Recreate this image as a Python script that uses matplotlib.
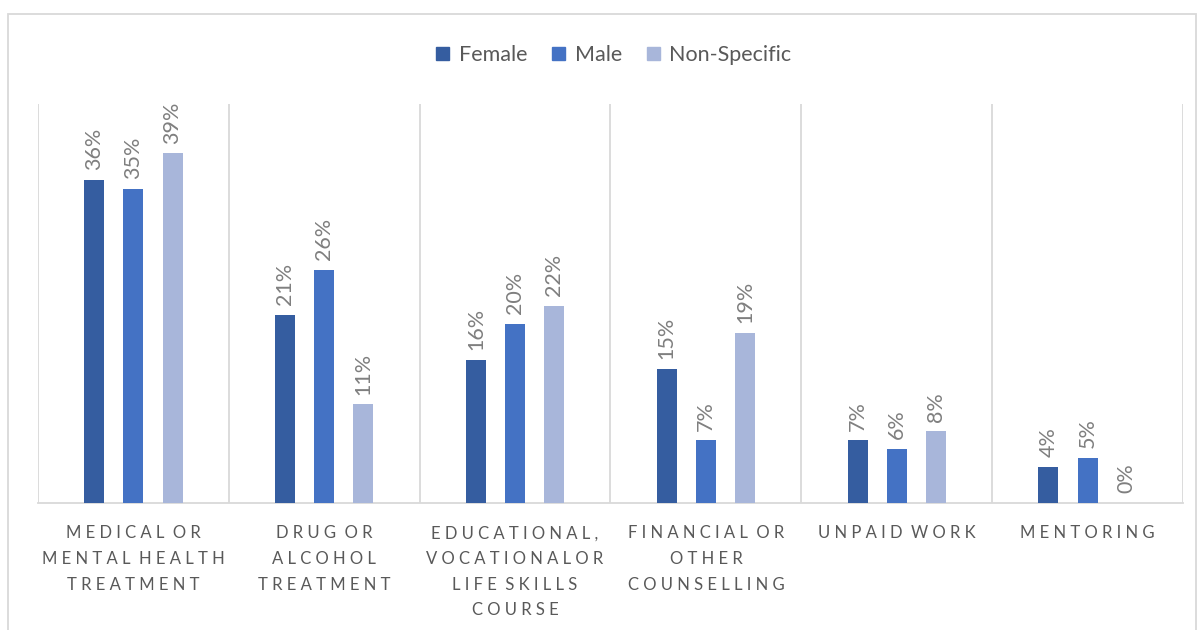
import matplotlib
matplotlib.use("Agg")
import matplotlib.pyplot as plt
from matplotlib.patches import Rectangle
import numpy as np

categories = ["MEDICAL OR\nMENTAL HEALTH\nTREATMENT",
              "DRUG OR\nALCOHOL\nTREATMENT",
              "EDUCATIONAL,\nVOCATIONALOR\nLIFE SKILLS\nCOURSE",
              "FINANCIAL OR\nOTHER\nCOUNSELLING",
              "UNPAID WORK",
              "MENTORING"]
series_names = ["Female", "Male", "Non-Specific"]
female = [36, 21, 16, 15, 7, 4]
male = [35, 26, 20, 7, 6, 5]
non_specific = [39, 11, 22, 19, 8, 0]
colors = ["#355DA0", "#4472C4", "#A8B6DA"]

plt.rcParams['font.family'] = ['Lato', 'DejaVu Sans']

W, H = 1199, 630
fig = plt.figure(figsize=(W / 100, H / 100), dpi=100)
fig.patch.set_facecolor("white")
# outer chart border
fig.add_artist(Rectangle((8 / W, -0.05), (1196 - 8) / W, 1.05 - 14 / H,
                         transform=fig.transFigure, fill=False,
                         edgecolor="#d9d9d9", linewidth=1.3))

ax = fig.add_axes([38 / W, 1 - 503 / H, (1183 - 38) / W, (503 - 104) / H])
n = len(categories)
x = np.arange(n)
width = 0.105
offsets = [-0.205, 0.0, 0.205]
data = [female, male, non_specific]
for vals, off, c, name in zip(data, offsets, colors, series_names):
    bars = ax.bar(x + off, vals, width, color=c, label=name, zorder=3)
    for b, v in zip(bars, vals):
        ax.annotate(f"{v}%", (b.get_x() + b.get_width() / 2, b.get_height()),
                    xytext=(0, 7), textcoords="offset points",
                    rotation=90, ha="center", va="bottom",
                    fontsize=15.5, color="#7f7f7f")

ax.set_xlim(-0.5, n - 0.5)
ax.set_ylim(0, 44.5)
for b in np.arange(-0.5, n, 1.0):
    ax.axvline(b, color="#d9d9d9", linewidth=1.3, zorder=1)
for s in ["top", "right", "left"]:
    ax.spines[s].set_visible(False)
ax.spines["bottom"].set_color("#d9d9d9")
ax.spines["bottom"].set_linewidth(1.3)
ax.set_yticks([])
ax.set_xticks([])

def spaced(s):
    lines = []
    for line in s.split("\n"):
        words = line.split(" ")
        lines.append("  ".join(" ".join(list(w)) for w in words))
    return "\n".join(lines)

for i, cat in enumerate(categories):
    ax.annotate(spaced(cat), (i, 0), xytext=(0, -16), textcoords="offset points",
                ha="center", va="top", fontsize=12, color="#595959",
                linespacing=1.75, annotation_clip=False)

handles = [Rectangle((0, 0), 1, 1, color=c) for c in colors]
fig.legend(handles, series_names, loc="center", bbox_to_anchor=(614 / W, 1 - 55 / H),
           ncol=3, frameon=False, fontsize=15.5, handlelength=0.6, handleheight=0.6,
           handletextpad=0.45, columnspacing=1.15, labelcolor="#595959")

fig.savefig("out.png", dpi=100)
